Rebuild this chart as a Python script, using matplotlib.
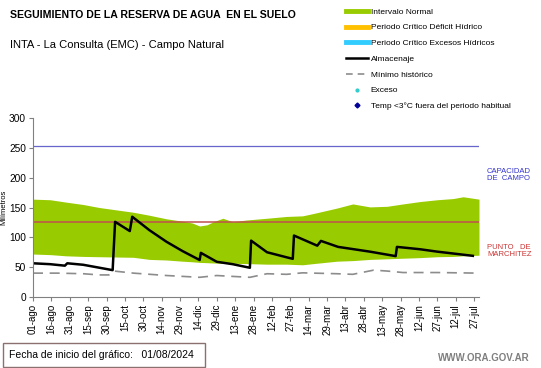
import matplotlib
matplotlib.use("Agg")
import matplotlib.pyplot as plt
from matplotlib.lines import Line2D
from matplotlib.patches import Rectangle

plt.rcParams['font.family'] = ['Liberation Sans', 'DejaVu Sans']

# dias desde el 01/08/2024
tick_days = list(range(0, 361, 15))
tick_labels = ['01-ago', '16-ago', '31-ago', '15-sep', '30-sep', '15-oct', '30-oct',
               '14-nov', '29-nov', '14-dic', '29-dic', '13-ene', '28-ene', '12-feb',
               '27-feb', '14-mar', '29-mar', '13-abr', '28-abr', '13-may', '28-may',
               '12-jun', '27-jun', '12-jul', '27-jul']

# intervalo normal
band_days = [0, 14, 27, 41, 54, 68, 82, 95, 109, 122, 130, 136, 142, 147, 155, 163,
             174, 191, 207, 220, 229, 248, 261, 275, 289, 302, 316, 330, 343, 351, 364]
band_upper = [164, 163, 159, 155, 150, 146, 142, 137, 131, 127, 124, 119, 121, 126, 132, 126,
              129, 132, 135, 136, 140, 149, 156, 151, 152, 156, 160, 163, 165, 168, 164]
band_lower = [72, 71, 69, 68, 67.5, 67, 66.5, 63, 62, 60, 59, 58, 57.5, 57, 56.5, 56.5,
              56, 55, 55, 54, 56, 60, 61, 63, 64, 65, 66, 67.5, 68, 69, 70]

# minimo historico
min_days = [0, 20, 41, 54, 62, 66, 82, 109, 136, 150, 163, 177, 191, 207, 220, 248,
            261, 278, 289, 302, 330, 364]
min_vals = [40, 40, 39, 37, 37, 43.5, 40, 36, 33, 36, 34.5, 33, 39, 38, 40.5, 39,
            38, 45, 43.5, 41, 41, 40]

# almacenaje
alm_days = [0, 14, 26, 28, 41, 65, 67, 79, 81, 95, 109, 122, 136, 137, 150, 163, 177,
            178, 191, 208, 212, 213, 232, 235, 249, 275, 296, 297, 316, 330, 359]
alm_vals = [56.5, 55, 52.5, 56.5, 54, 45, 126, 110.5, 134.5, 112, 92.5, 77, 62, 74, 59,
            55, 49, 94.5, 75, 66, 64, 103, 86, 94, 84, 76, 68.5, 84, 80, 76, 69]

capacidad_campo = 253
punto_marchitez = 125

fig = plt.figure(figsize=(5.41, 3.68), dpi=100)
ax = fig.add_axes([33 / 541, 1 - 297 / 368, (479 - 33) / 541, (297 - 118) / 368])

ax.fill_between(band_days, band_lower, band_upper, color='#99CC00', lw=0)
ax.axhline(capacidad_campo, color='#6666CC', lw=0.9)
ax.axhline(punto_marchitez, color='#C0504D', lw=1.1)
ax.plot(min_days, min_vals, color='#8C8C8C', lw=1.2, dashes=(6, 4))
ax.plot(alm_days, alm_vals, color='black', lw=1.8)

ax.set_xlim(0, 364)
ax.set_ylim(0, 300)
ax.set_yticks(range(0, 301, 50))
ax.set_xticks(tick_days)
ax.set_xticklabels(tick_labels, rotation=90, fontsize=7)
ax.tick_params(axis='y', labelsize=7.3, length=3, color='#808080', pad=2)
ax.tick_params(axis='x', length=3, color='#808080', pad=2)
for s in ['top', 'right']:
    ax.spines[s].set_visible(False)
for s in ['left', 'bottom']:
    ax.spines[s].set_color('#808080')
ax.set_ylabel('Milímetros', fontsize=5.5, va='center')
ax.yaxis.set_label_coords(-0.066, 0.5)

fig.text(10 / 541, 1 - 15 / 368, 'SEGUIMIENTO DE LA RESERVA DE AGUA  EN EL SUELO',
         fontsize=7.6, fontweight='bold', va='center')
fig.text(10 / 541, 1 - 45 / 368, 'INTA - La Consulta (EMC) - Campo Natural',
         fontsize=8, va='center')

fig.text(487 / 541, 1 - 175 / 368, 'CAPACIDAD\nDE  CAMPO', color='#3333CC',
         fontsize=5.5, va='center', linespacing=1.1)
fig.text(487 / 541, 1 - 251 / 368, 'PUNTO   DE\nMARCHITEZ', color='#CC3333',
         fontsize=5.5, va='center', linespacing=1.1)

handles = [
    Line2D([], [], color='#99CC00', lw=3.5),
    Line2D([], [], color='#FFC000', lw=3.5),
    Line2D([], [], color='#33CCFF', lw=3.5),
    Line2D([], [], color='black', lw=1.8),
    Line2D([], [], color='#8C8C8C', lw=1.2, dashes=(4, 3)),
    Line2D([], [], color='#33CCCC', marker='o', ms=2, lw=0),
    Line2D([], [], color='#000099', marker='D', ms=2.5, lw=0),
]
labels = ['Intervalo Normal', 'Periodo Crítico Déficit Hídrico',
          'Periodo Crítico Excesos Hídricos', 'Almacenaje', 'Mínimo histórico',
          'Exceso', 'Temp <3°C fuera del periodo habitual']
fig.legend(handles, labels, loc='upper left', bbox_to_anchor=(340 / 541, 1 - 2 / 368),
           frameon=False, fontsize=6, handlelength=2.6, handletextpad=0.4,
           labelspacing=0.95, borderpad=0.2)

box = Rectangle((3 / 541, 1 - 367 / 368), 202 / 541, 24 / 368, transform=fig.transFigure,
                facecolor='white', edgecolor='#8B7070', lw=1)
fig.patches.append(box)
fig.text(9 / 541, 1 - 355 / 368, 'Fecha de inicio del gráfico:   01/08/2024',
         fontsize=7.5, va='center')
fig.text(530 / 541, 1 - 358 / 368, 'WWW.ORA.GOV.AR', color='#7F7F7F',
         fontsize=7, fontweight='bold', ha='right', va='center')

fig.savefig('out.png', dpi=100)
